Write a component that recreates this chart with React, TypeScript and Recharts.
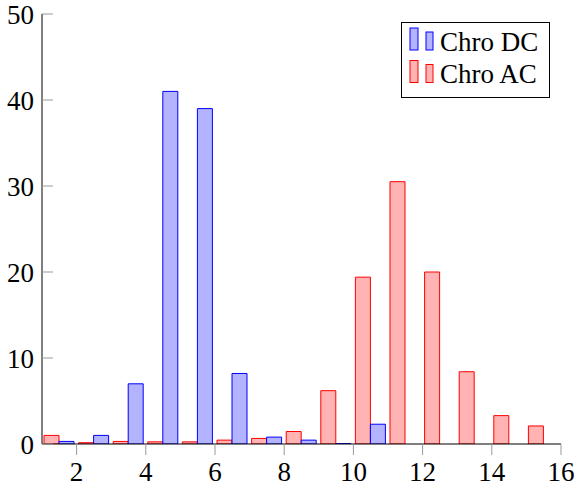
import { BarChart, Bar, XAxis, YAxis, Legend } from "recharts"

// bin centres on the x axis
const bins = [1.5, 2.5, 3.5, 4.5, 5.5, 6.5, 7.5, 8.5, 9.5, 10.5, 11.5, 12.5, 13.5, 14.5, 15.5]
const chroDC = [0.3, 1.0, 7.0, 41.0, 39.0, 8.2, 0.8, 0.45, 0.05, 2.3, null, null, null, null, null]
const chroAC = [1.0, 0.15, 0.3, 0.25, 0.25, 0.45, 0.65, 1.45, 6.2, 19.4, 30.5, 20.0, 8.4, 3.3, 2.1]
const xTicks = [2, 4, 6, 8, 10, 12, 14, 16]
const yTicks = [0, 10, 20, 30, 40, 50]

const FONT = "Liberation Serif, DejaVu Serif, serif"
const TICK_GRAY = "#999"

const series = [
  { key: "dc", name: "Chro DC", fill: "#b3b3ff", stroke: "#0000ff" },
  { key: "ac", name: "Chro AC", fill: "#ffb3b3", stroke: "#ff0000" },
]

const data = bins.map((x, i) => ({ x, dc: chroDC[i], ac: chroAC[i] }))

const tickStyle = { fill: "#000", fontSize: 27, fontFamily: FONT }

function LegendBox() {
  return (
    <div style={{ width: 149, height: 76, border: "1px solid #000", boxSizing: "border-box", background: "#fff" }}>
      <svg width={147} height={74} style={{ display: "block" }}>
        {series.map((s, i) => {
          const dy = i * 32.5 - 1
          return (
            <g key={s.key}>
              <rect x={8} y={6 + dy} width={8} height={22} fill={s.fill} stroke={s.stroke} />
              <rect x={24} y={10 + dy} width={7} height={18} fill={s.fill} stroke={s.stroke} />
              <text x={38} y={28.5 + dy} fontSize={27} fontFamily={FONT} fill="#000">
                {s.name}
              </text>
            </g>
          )
        })}
      </svg>
    </div>
  )
}

export default function App() {
  return (
    <div style={{ position: "absolute", left: 0, top: 0 }}>
      <BarChart
        width={576}
        height={488}
        data={data}
        margin={{ top: 14, right: 15, bottom: 4, left: 2 }}
        barGap={0}
        barSize={15}
      >
        <XAxis
          xAxisId="b"
          dataKey="x"
          type="number"
          domain={[1, 16]}
          ticks={xTicks}
          interval={0}
          allowDataOverflow
          height={40}
          tickSize={11}
          tickMargin={7}
          axisLine={{ stroke: "#000" }}
          tickLine={{ stroke: TICK_GRAY }}
          tick={tickStyle}
        />
        <XAxis
          xAxisId="t"
          orientation="top"
          dataKey="x"
          type="number"
          domain={[1, 16]}
          ticks={xTicks}
          interval={0}
          allowDataOverflow
          height={0}
          tickSize={11}
          tick={false}
          axisLine={{ stroke: "#000" }}
          tickLine={{ stroke: TICK_GRAY }}
        />
        <YAxis
          yAxisId="l"
          domain={[0, 50]}
          ticks={yTicks}
          interval={0}
          allowDataOverflow
          width={40}
          tickSize={-11}
          tickMargin={19}
          axisLine={{ stroke: "#000" }}
          tickLine={{ stroke: TICK_GRAY }}
          tick={tickStyle}
        />
        <YAxis
          yAxisId="r"
          orientation="right"
          domain={[0, 50]}
          ticks={yTicks}
          interval={0}
          allowDataOverflow
          width={0}
          tickSize={-11}
          tick={false}
          axisLine={{ stroke: "#000" }}
          tickLine={{ stroke: TICK_GRAY }}
        />
        <Legend
          layout="horizontal"
          align="center"
          verticalAlign="middle"
          wrapperStyle={{ left: 401, top: 22, width: 149, height: 76 }}
          content={() => <LegendBox />}
        />
        {/* AC is drawn on the left of each bin, DC on the right */}
        <Bar
          xAxisId="b"
          yAxisId="l"
          dataKey="ac"
          name="Chro AC"
          fill={series[1].fill}
          stroke={series[1].stroke}
          strokeWidth={1}
          isAnimationActive={false}
        />
        <Bar
          xAxisId="b"
          yAxisId="l"
          dataKey="dc"
          name="Chro DC"
          fill={series[0].fill}
          stroke={series[0].stroke}
          strokeWidth={1}
          isAnimationActive={false}
        />
      </BarChart>
    </div>
  )
}
